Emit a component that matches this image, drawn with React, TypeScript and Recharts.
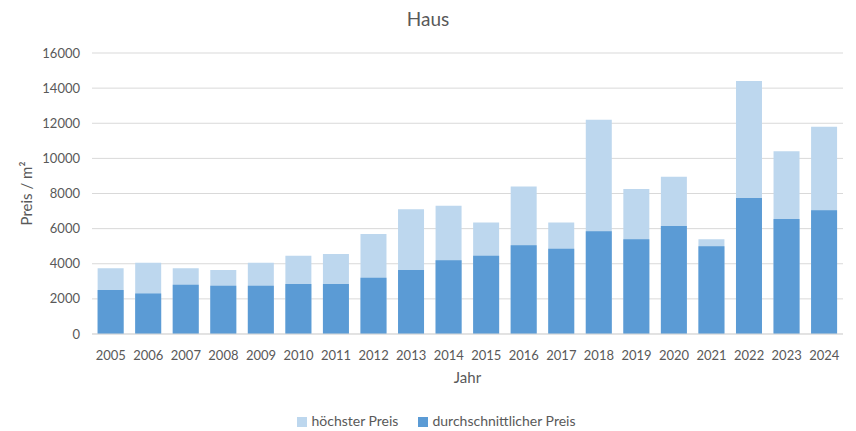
import { BarChart, Bar, XAxis, YAxis, CartesianGrid, Legend } from "recharts";

const years = [
  "2005", "2006", "2007", "2008", "2009", "2010", "2011", "2012", "2013", "2014",
  "2015", "2016", "2017", "2018", "2019", "2020", "2021", "2022", "2023", "2024",
];

// höchster Preis (top of the light bar)
const maxPrice = [
  3750, 4050, 3750, 3650, 4050, 4450, 4550, 5700, 7100, 7300,
  6350, 8400, 6350, 12200, 8250, 8950, 5400, 14400, 10400, 11800,
];

// durchschnittlicher Preis (dark bar, drawn in front)
const avgPrice = [
  2500, 2300, 2800, 2750, 2750, 2850, 2850, 3200, 3650, 4200,
  4450, 5050, 4850, 5850, 5400, 6150, 5000, 7750, 6550, 7050,
];

const yTicks = [0, 2000, 4000, 6000, 8000, 10000, 12000, 14000, 16000];

const legendOrder = ["höchster Preis", "durchschnittlicher Preis"];

const data = years.map((year, i) => ({
  year,
  max: maxPrice[i],
  avg: avgPrice[i],
}));

const FONT = "Lato, 'Open Sans', sans-serif";
const TEXT = "#595959";

export default function App() {
  return (
    <div style={{ position: "absolute", left: 0, top: 0, width: 856, height: 431, background: "#fff", fontFamily: FONT }}>
      <div
        style={{
          position: "absolute",
          top: 7,
          left: 0,
          width: 856,
          textAlign: "center",
          fontSize: 19,
          color: TEXT,
        }}
      >
        Haus
      </div>
      <BarChart
        width={856}
        height={431}
        data={data}
        margin={{ top: 53, right: 13, left: 0, bottom: 2 }}
        barCategoryGap="15%"
      >
        <CartesianGrid vertical={false} stroke="#D9D9D9" />
        <XAxis
          xAxisId="a"
          dataKey="year"
          height={78}
          tickLine={false}
          axisLine={{ stroke: "#D9D9D9" }}
          tick={{ fill: TEXT, fontSize: 13 }}
          tickMargin={11}
          interval={0}
          label={{ value: "Jahr", position: "insideBottom", offset: 29, fill: TEXT, fontSize: 15 }}
        />
        <XAxis xAxisId="b" dataKey="year" hide />
        <YAxis
          width={92}
          domain={[0, 16000]}
          ticks={yTicks}
          tickLine={false}
          axisLine={false}
          tickSize={0}
          tickMargin={12}
          tick={{ fill: TEXT, fontSize: 13 }}
          label={{
            value: "Preis / m²",
            angle: -90,
            position: "insideLeft",
            offset: 27,
            fill: TEXT,
            fontSize: 15,
            style: { textAnchor: "middle" },
          }}
        />
        <Legend
          verticalAlign="bottom"
          iconType="square"
          iconSize={10}
          itemSorter={(item: any) => legendOrder.indexOf(item.value)}
          wrapperStyle={{ fontSize: 14, color: TEXT, paddingLeft: 20 }}
          formatter={(value) => (
            <span style={{ color: TEXT, marginRight: value === legendOrder[0] ? 10 : 0 }}>{value}</span>
          )}
        />
        <Bar xAxisId="a" dataKey="max" name="höchster Preis" fill="#BDD7EE" isAnimationActive={false} />
        <Bar xAxisId="b" dataKey="avg" name="durchschnittlicher Preis" fill="#5B9BD5" isAnimationActive={false} />
      </BarChart>
    </div>
  );
}
